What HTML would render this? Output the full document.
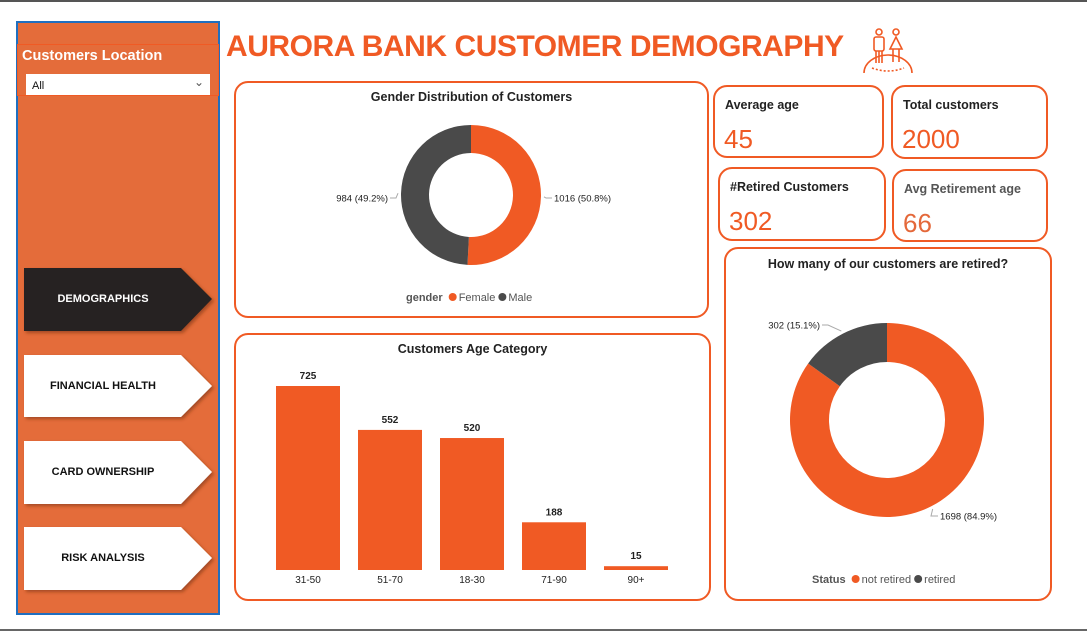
<!DOCTYPE html>
<html><head><meta charset="utf-8">
<style>
*{box-sizing:border-box;margin:0;padding:0}
body{width:1087px;height:633px;background:#fff;position:relative;overflow:hidden;font-family:"Liberation Sans",sans-serif}
.abs{position:absolute}
.card{position:absolute;border:2px solid #f05a24;border-radius:14px;background:#fff}
.kpi .lbl{position:absolute;left:10px;top:11px;font-size:12.5px;font-weight:bold;color:#222}
.kpi .val{position:absolute;left:9px;top:37px;font-size:26px;color:#f05a24}
.nav{position:absolute;left:24px;width:188px;height:63px}
.nav span{position:absolute;left:0;width:158px;top:0;height:63px;line-height:63px;text-align:center;font-size:11px;font-weight:bold}
.ctitle{position:absolute;left:0;right:0;text-align:center;font-size:12.5px;font-weight:bold;color:#222}
</style></head><body>
<div class="abs" style="left:0;top:0;width:1087px;height:2px;background:#555"></div>
<div class="abs" style="left:0;top:629px;width:1087px;height:2px;background:#666"></div>

<div class="abs" style="left:16px;top:21px;width:204px;height:594px;background:#e46c3a;border:2px solid #1f6fc0"></div>
<div class="abs" style="left:17px;top:44px;width:202px;height:52px;border:1px solid #f05a24"></div>
<div class="abs" style="left:22px;top:48px;font-size:14.5px;font-weight:bold;color:#fff">Customers Location</div>
<div class="abs" style="left:26px;top:74px;width:184px;height:21px;background:#fff;font-size:11px;padding:6px 0 0 6px;color:#111">All<span style="position:absolute;right:6px;top:1px;font-size:12px;color:#555">&#8964;</span></div>

<svg class="abs" style="left:0;top:0" width="240" height="633">
<defs><filter id="sh" x="-10%" y="-10%" width="130%" height="130%"><feDropShadow dx="2" dy="2" stdDeviation="1.5" flood-color="#7a3010" flood-opacity="0.6"/></filter></defs>
<polygon points="24,268 181,268 212,299 181,331 24,331" fill="#272322" filter="url(#sh)"/>
<polygon points="24,355 181,355 212,386 181,417 24,417" fill="#fff" filter="url(#sh)"/>
<polygon points="24,441 181,441 212,472 181,504 24,504" fill="#fff" filter="url(#sh)"/>
<polygon points="24,527 181,527 212,558 181,590 24,590" fill="#fff" filter="url(#sh)"/>
</svg>
<div class="nav" style="top:268px"><span style="color:#fff">DEMOGRAPHICS</span></div>
<div class="nav" style="top:355px"><span style="color:#111">FINANCIAL HEALTH</span></div>
<div class="nav" style="top:441px"><span style="color:#111">CARD OWNERSHIP</span></div>
<div class="nav" style="top:527px"><span style="color:#111">RISK ANALYSIS</span></div>

<div class="abs" style="left:226px;top:30px;font-size:30px;font-weight:bold;color:#f05a24;letter-spacing:-0.45px">AURORA BANK CUSTOMER DEMOGRAPHY</div>
<svg class="abs" style="left:862px;top:28px" width="52" height="48" fill="none" stroke="#f05a24" stroke-width="1.6">
<circle cx="17" cy="4" r="3"/><rect x="12" y="9" width="10" height="14" rx="2"/><path d="M14 23v12M20 23v12M17 23v12"/>
<circle cx="34" cy="4" r="3"/><path d="M34 9l-6 12h12z"/><path d="M31 21v13M37 21v13"/>
<path d="M2 45a24 18 0 0 1 48 0" /><path d="M10 40q16 6 32 0" stroke-dasharray="2 2"/>
</svg>

<div class="card" style="left:234px;top:81px;width:475px;height:237px">
<div class="ctitle" style="top:7px">Gender Distribution of Customers</div>
</div>
<svg class="abs" id="gsvg" style="left:234px;top:81px" width="475" height="237"></svg>

<div class="card" style="left:234px;top:333px;width:477px;height:268px">
<div class="ctitle" style="top:7px">Customers Age Category</div>
</div>
<svg class="abs" id="asvg" style="left:234px;top:333px" width="477" height="268"></svg>

<div class="card kpi" style="left:713px;top:85px;width:171px;height:73px"><div class="lbl">Average age</div><div class="val">45</div></div>
<div class="card kpi" style="left:891px;top:85px;width:157px;height:74px"><div class="lbl">Total customers</div><div class="val">2000</div></div>
<div class="card kpi" style="left:718px;top:167px;width:168px;height:74px"><div class="lbl">#Retired Customers</div><div class="val">302</div></div>
<div class="card kpi" style="left:892px;top:169px;width:156px;height:73px"><div class="lbl" style="color:#555">Avg Retirement age</div><div class="val" style="color:#e4683a">66</div></div>

<div class="card" style="left:724px;top:247px;width:328px;height:354px">
<div class="ctitle" style="top:8px">How many of our customers are retired?</div>
</div>
<svg class="abs" id="rsvg" style="left:724px;top:247px" width="328" height="354"></svg>

<script>
const genderLabels=["Female","Male"];
const genderValues=[1016,984];
const ageCategories=["31-50","51-70","18-30","71-90","90+"];
const ageValues=[725,552,520,188,15];
const statusLabels=["not retired","retired"];
const statusValues=[1698,302];
const ORANGE="#f05a24",GRAY="#4a4a4a";
const NS="http://www.w3.org/2000/svg";
function mk(svg,tag,attrs){const e=document.createElementNS(NS,tag);for(const k in attrs)e.setAttribute(k,attrs[k]);svg.appendChild(e);return e;}
function arc(cx,cy,R,r,a0,a1){
 const p=(rad,a)=>[cx+rad*Math.sin(a),cy-rad*Math.cos(a)];
 const lg=(a1-a0)>Math.PI?1:0;
 const [x1,y1]=p(R,a0),[x2,y2]=p(R,a1),[x3,y3]=p(r,a1),[x4,y4]=p(r,a0);
 return `M${x1},${y1}A${R},${R} 0 ${lg} 1 ${x2},${y2}L${x3},${y3}A${r},${r} 0 ${lg} 0 ${x4},${y4}Z`;
}
function donut(svg,cx,cy,R,r,vals,labels,names,colors,lblPos){
 const tot=vals.reduce((a,b)=>a+b,0);let a=0;
 vals.forEach((v,i)=>{
  const a1=a+v/tot*2*Math.PI;
  const s=mk(svg,'path',{d:arc(cx,cy,R,r,a,a1),fill:colors[i]});
  
  
  const mid=(a+a1)/2;
  const lp=lblPos(i,mid);
  const ex=cx+(R+3)*Math.sin(mid),ey=cy-(R+3)*Math.cos(mid);
  mk(svg,'polyline',{points:`${ex},${ey} ${lp.kx},${lp.ky} ${lp.lx},${lp.ky}`,fill:'none',stroke:'#aaa','stroke-width':1});
  const t=mk(svg,'text',{x:lp.tx,y:lp.ky+3.5,'font-size':'9.5',fill:'#222','text-anchor':lp.anchor});
  t.textContent=`${v} (${(v/tot*100).toFixed(1)}%)`;
  
  
  a=a1;
 });
 return tot;
}
function legend(svg,x,y,title,labels,colors){
 const t=mk(svg,'text',{x:x,y:y,'font-size':'11','font-weight':'bold',fill:'#555'});t.textContent=title;
 
 
 let cx=x+t.getComputedTextLength()+6;
 labels.forEach((l,i)=>{
  mk(svg,'circle',{cx:cx+4,cy:y-4,r:4,fill:colors[i]});
  const tt=mk(svg,'text',{x:cx+10,y:y,'font-size':'11',fill:'#555'});tt.textContent=l;
  
  
  cx+=10+tt.getComputedTextLength()+3;
 });
}
const g=document.getElementById('gsvg');
donut(g,237,114,70,42,genderValues,genderLabels,['female','male'],[ORANGE,GRAY],(i,mid)=>{
 const right=Math.sin(mid)>0;const ky=117;
 return right?{kx:312,ky:ky,lx:318,tx:320,anchor:'start'}:{kx:162,ky:ky,lx:156,tx:154,anchor:'end'};
});
legend(g,172,220,'gender',genderLabels,[ORANGE,GRAY]);
const r=document.getElementById('rsvg');
donut(r,163,173,97,58,statusValues,statusLabels,['not-retired','retired'],[ORANGE,GRAY],(i,mid)=>{
 return i===0?{kx:207,ky:269,lx:214,tx:216,anchor:'start'}:{kx:104,ky:78,lx:98,tx:96,anchor:'end'};
});
legend(r,88,336,'Status',statusLabels,[ORANGE,GRAY]);
const b=document.getElementById('asvg');
const baseY=237,plotH=184,maxV=725,x0=42,step=82,bw=64;
const yScale=v=>baseY-v/maxV*plotH;
const xScale=i=>x0+i*step;
ageCategories.forEach((c,i)=>{
 const v=ageValues[i],y=yScale(v);
 const rc=mk(b,'rect',{x:xScale(i),y:y,width:bw,height:baseY-y,fill:ORANGE});
 
 
 const t=mk(b,'text',{x:xScale(i)+bw/2,y:y-7,'font-size':'10','font-weight':'bold','text-anchor':'middle',fill:'#222'});t.textContent=v;
 
 
 const l=mk(b,'text',{x:xScale(i)+bw/2,y:baseY+13,'font-size':'10','text-anchor':'middle',fill:'#222'});l.textContent=c;
 
 
});
</script>
</body></html>
